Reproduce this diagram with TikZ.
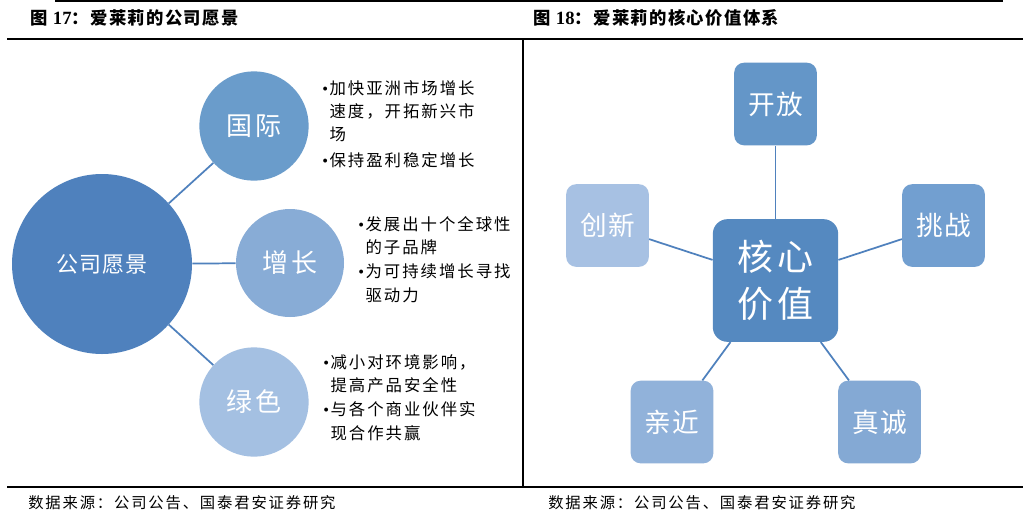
\documentclass[tikz,border=0pt]{standalone}
\usepackage{fontspec}
\setmainfont{Liberation Serif}
\newfontfamily\cjk{Noto Sans CJK SC}
\newfontfamily\cjkt[LetterSpace=8]{Noto Sans CJK SC}
\newfontfamily\cjkbul[LetterSpace=12]{Noto Sans CJK SC}
\newfontfamily\cjksrc[LetterSpace=12]{Noto Sans CJK SC}
\newfontfamily\cjkc[LetterSpace=12]{Noto Sans CJK SC}
\newfontfamily\cjkd[LetterSpace=4]{Noto Sans CJK SC}
\newcommand\myb{\makebox[5.5pt][l]{\rmfamily\char"2022}}
\newcommand\myi{\hspace*{5.5pt}}
\definecolor{cmain}{HTML}{4F81BD}
\definecolor{cone}{HTML}{6A9CCB}
\definecolor{ctwo}{HTML}{88ACD6}
\definecolor{cthree}{HTML}{A4C0E2}
\definecolor{rcen}{HTML}{5589C0}
\definecolor{rtop}{HTML}{6496C8}
\definecolor{rleft}{HTML}{A7C1E3}
\definecolor{rright}{HTML}{729FD0}
\definecolor{rbl}{HTML}{91B2DA}
\definecolor{rbr}{HTML}{84A9D4}
\definecolor{cline}{HTML}{4F81BD}
\begin{document}
\begin{tikzpicture}[x=0.75pt,y=-0.75pt,
  rule/.style={line width=1.1pt,black},
  bubble/.style={circle,inner sep=0pt,text=white},
  card/.style={rectangle,rounded corners=7.5pt,inner sep=0pt,text=white,minimum width=62pt,minimum height=62pt,font=\cjkd\fontsize{20pt}{24pt}\selectfont},
  link/.style={cline,line width=1.3pt},
  btext/.style={inner sep=0pt,align=left,anchor=north west,font=\cjkbul\fontsize{12.3pt}{17.4pt}\selectfont},
  ttl/.style={anchor=west,inner sep=0pt,font=\fontsize{13pt}{15pt}\selectfont},
  src/.style={anchor=west,inner sep=0pt,font=\cjksrc\fontsize{11.5pt}{13pt}\selectfont}
]
\useasboundingbox[fill=white] (0,0) rectangle (1036,522);
% frame rules
\draw[rule] (55,1) -- (1003,1);
\draw[rule] (7,39) -- (1023,39);
\draw[rule] (7,487) -- (1023,487);
\draw[rule] (523,39) -- (523,487);
% titles
\node[ttl] (title1) at (30,18) {{\cjkt\bfseries 图}\hspace{4pt}{\fontsize{14pt}{15pt}\selectfont\bfseries 17}{\cjkt\bfseries ：爱莱莉的公司愿景}};
\node[ttl] (title2) at (533,18) {{\cjkt\bfseries 图}\hspace{4pt}{\fontsize{14pt}{15pt}\selectfont\bfseries 18}{\cjkt\bfseries ：爱莱莉的核心价值体系}};
% sources
\node[src] (src1) at (28,503) {数据来源：公司公告、国泰君安证券研究};
\node[src] (src2) at (548,503) {数据来源：公司公告、国泰君安证券研究};
% left diagram
\node[bubble,fill=cmain,minimum size=135pt,font=\cjkd\fontsize{16.5pt}{20pt}\selectfont] (vision) at (102,264) {公司愿景};
\node[bubble,fill=cone,minimum size=82pt,font=\cjkc\fontsize{19.5pt}{22pt}\selectfont] (intl) at (254,126) {国际};
\node[bubble,fill=ctwo,minimum size=81pt,font=\cjkc\fontsize{19.5pt}{22pt}\selectfont] (grow) at (290,263) {增长};
\node[bubble,fill=cthree,minimum size=82pt,font=\cjkc\fontsize{19.5pt}{22pt}\selectfont] (green) at (254,402) {绿色};
\draw[link] (vision) -- (intl);
\draw[link] (vision) -- (grow);
\draw[link] (vision) -- (green);
\node[btext] (t1) at (322,80) {\myb 加快亚洲市场增长\\ \myi 速度，开拓新兴市\\ \myi 场\\[2pt] \myb 保持盈利稳定增长};
\node[btext] (t2) at (358,216) {\myb 发展出十个全球性\\ \myi 的子品牌\\[1pt] \myb 为可持续增长寻找\\ \myi 驱动力};
\node[btext] (t3) at (323,354) {\myb 减小对环境影响，\\ \myi 提高产品安全性\\[1pt] \myb 与各个商业伙伴实\\ \myi 现合作共赢};
% right diagram
\node[card,fill=rcen,minimum width=94pt,minimum height=92pt,rounded corners=11pt,align=center,font=\cjkc\fontsize{27pt}{35pt}\selectfont] (core) at (775.5,280.5) {核心\\价值};
\node[card,fill=rtop] (open) at (775.5,104) {开放};
\node[card,fill=rleft] (innov) at (607.5,225.5) {创新};
\node[card,fill=rright] (chal) at (943.5,225.5) {挑战};
\node[card,fill=rbl] (close) at (672,422) {亲近};
\node[card,fill=rbr] (sinc) at (879.5,422) {真诚};
\draw[link] (core) -- (open);
\draw[link] (core) -- (innov);
\draw[link] (core) -- (chal);
\draw[link] (core) -- (close);
\draw[link] (core) -- (sinc);
\end{tikzpicture}
\end{document}
